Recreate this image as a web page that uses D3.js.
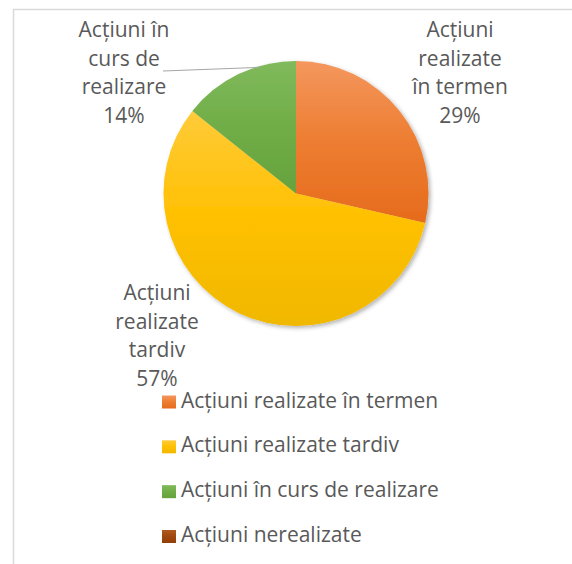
<!DOCTYPE html>
<html>
<head>
<meta charset="utf-8">
<script src="https://cdn.jsdelivr.net/npm/d3@7"></script>
<style>
  html, body { margin: 0; padding: 0; background: #fff; }
  svg { display: block; }
  text { font-family: "Open Sans", Lato, sans-serif; fill: #595959; }
</style>
</head>
<body>
<div id="chart"></div>
<script>
const categories = [
    "Acțiuni realizate în termen",
    "Acțiuni realizate tardiv",
    "Acțiuni în curs de realizare",
    "Acțiuni nerealizate"
];
const values = [2, 4, 1, 0];
const baseColors = ["#ED7D31", "#FFC000", "#70AD47", "#9E480E"];
const lightColors = ["#F4975E", "#FFCB3A", "#80BA5C", "#B05A20"];
const darkColors = ["#E66B1C", "#F0B800", "#66A33D", "#943F08"];
// label text lines per slice (shown only for non-zero values)
const labelLines = [
    ["Acțiuni", "realizate", "în termen"],
    ["Acțiuni", "realizate", "tardiv"],
    ["Acțiuni în", "curs de", "realizare"]
];
// label block centers (layout)
const labelCenters = [[460, 80], [157, 343], [124, 80]];

const width = 572, height = 564;
const cx = 296, cy = 193.5, radius = 132.5;
const fontSize = 21;

const svg = d3.select("#chart").append("svg")
    .attr("width", width)
    .attr("height", height);

const defs = svg.append("defs");
categories.forEach((c, i) => {
    const g = defs.append("linearGradient")
        .attr("id", "grad" + i)
        .attr("x1", 0).attr("y1", 0).attr("x2", 0).attr("y2", 1);
    g.append("stop").attr("offset", "0%").attr("stop-color", lightColors[i]);
    g.append("stop").attr("offset", "50%").attr("stop-color", baseColors[i]);
    g.append("stop").attr("offset", "100%").attr("stop-color", darkColors[i]);
});
const shadow = defs.append("filter").attr("id", "shadow")
    .attr("x", "-20%").attr("y", "-20%").attr("width", "140%").attr("height", "140%");
shadow.append("feDropShadow")
    .attr("dx", 2).attr("dy", 2).attr("stdDeviation", 2.2)
    .attr("flood-color", "#000").attr("flood-opacity", 0.3);

// chart frame (only top and left edges visible)
svg.append("path")
    .attr("d", `M13.5,${height} V9.5 H${width}`)
    .attr("fill", "none")
    .attr("stroke", "#d9d9d9")
    .attr("stroke-width", 1.5);

const total = d3.sum(values);
const pie = d3.pie().sort(null).value(d => d);
const arcs = pie(values);
const arc = d3.arc().innerRadius(0).outerRadius(radius);

const pieG = svg.append("g")
    .attr("transform", `translate(${cx},${cy})`)
    .attr("filter", "url(#shadow)");

pieG.selectAll("path")
    .data(arcs.filter(d => d.value > 0))
    .join("path")
    .attr("d", arc)
    .attr("fill", d => `url(#grad${d.index})`);

// leader line for the small slice
const greenArc = arcs[2];
const edgeAngle = greenArc.startAngle + (greenArc.endAngle - greenArc.startAngle) * 0.68;
const edgePt = [cx + (radius - 1) * Math.sin(edgeAngle), cy - (radius - 1) * Math.cos(edgeAngle)];
svg.append("line")
    .attr("x1", 163).attr("y1", 71)
    .attr("x2", edgePt[0]).attr("y2", edgePt[1])
    .attr("stroke", "#a6a6a6")
    .attr("stroke-width", 1.2);

// data labels
const fmt = d3.format(".0%");
const lineH = 28.7;
arcs.filter(d => d.value > 0).forEach(d => {
    const lines = labelLines[d.index].concat([fmt(d.value / total)]);
    const [lx, ly] = labelCenters[d.index];
    const t = svg.append("text")
        .attr("text-anchor", "middle")
        .attr("font-size", fontSize);
    lines.forEach((s, j) => {
        t.append("tspan")
            .attr("x", lx)
            .attr("y", ly + (j - (lines.length - 1) / 2) * lineH)
            .text(s);
    });
});

// legend
const legendY = d3.scalePoint().domain(categories).range([401.5, 536]);
const legend = svg.append("g");
const item = legend.selectAll("g")
    .data(categories)
    .join("g")
    .attr("transform", d => `translate(162,${legendY(d)})`);
item.append("rect")
    .attr("x", 0).attr("y", -6)
    .attr("width", 14).attr("height", 13)
    .attr("fill", (d, i) => `url(#grad${i})`);
item.append("text")
    .attr("x", 19).attr("y", 6)
    .attr("font-size", fontSize)
    .text(d => d);
</script>
</body>
</html>
